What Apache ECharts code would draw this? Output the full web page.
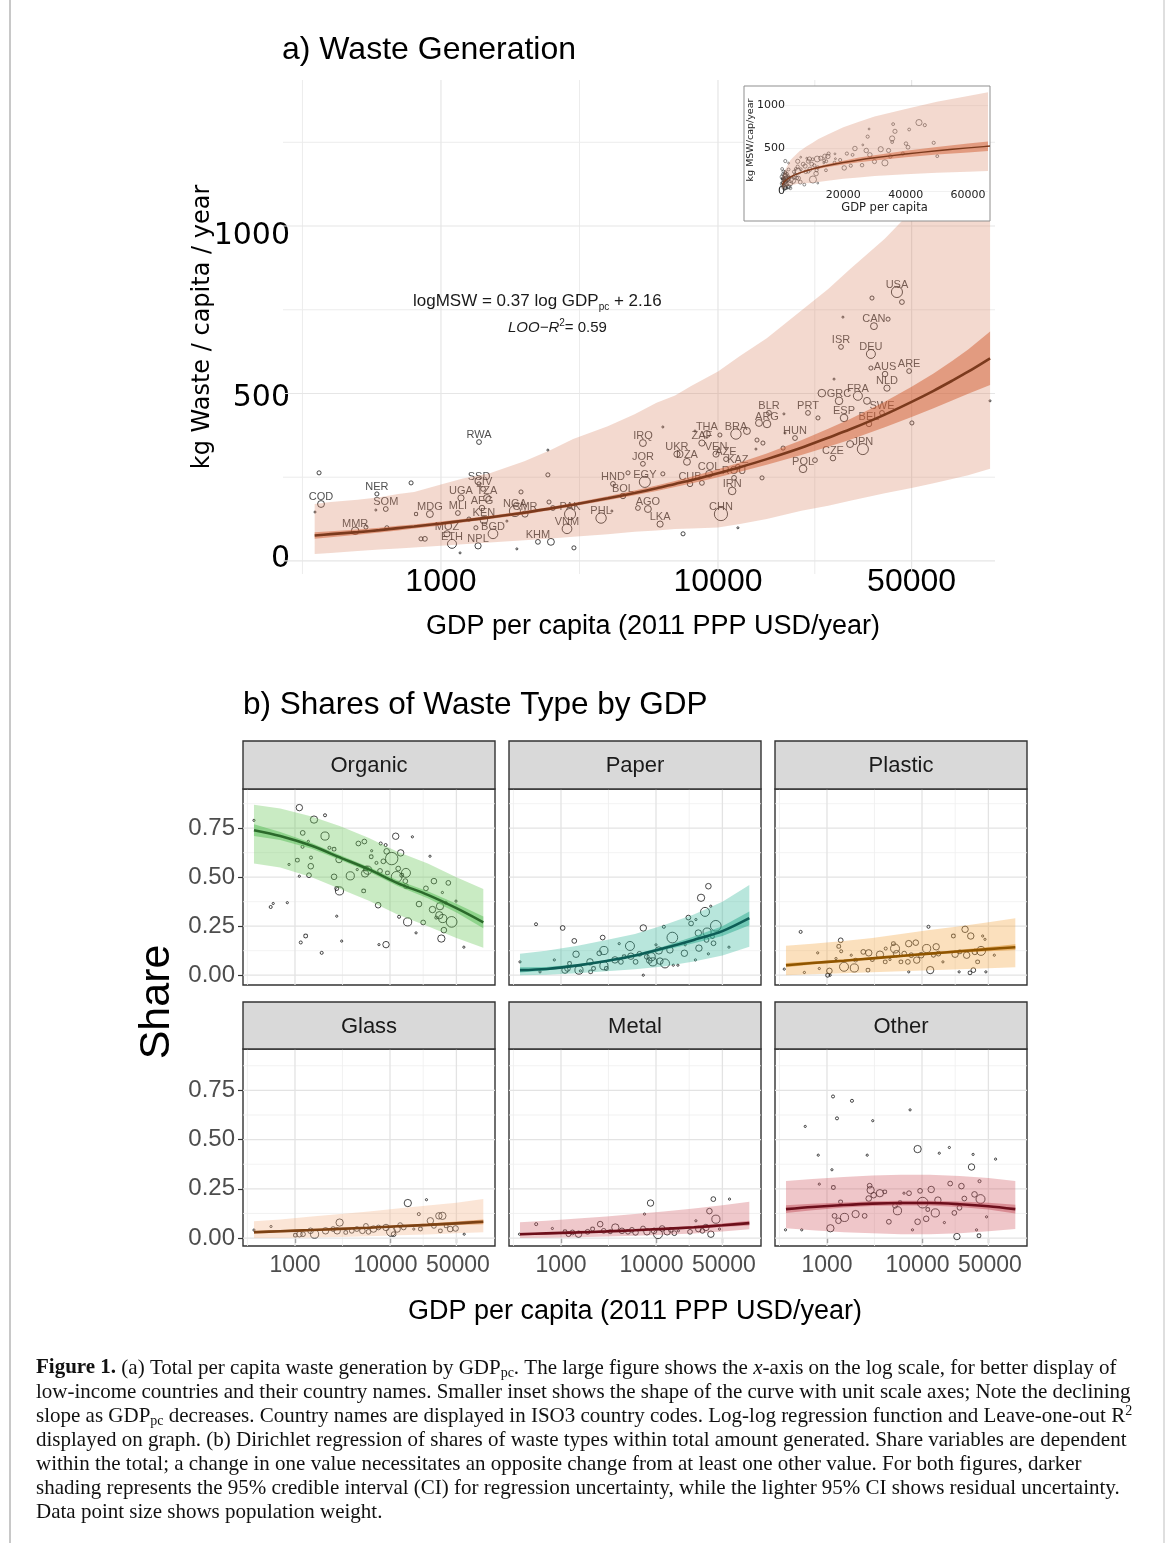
<!DOCTYPE html>
<html>
<head>
<meta charset="utf-8">
<title>Waste Generation and Shares of Waste Type by GDP</title>
<script src="https://cdn.jsdelivr.net/npm/echarts@6.0.0/dist/echarts.min.js"></script>
<style>
html,body{margin:0;padding:0;background:#ffffff;}
#chart{width:1171px;height:1543px;}
</style>
</head>
<body>
<div id="chart"></div>
<script>
// ================= Panel a: per capita waste vs GDP =================
const countryCodes = [
  'COD','','','NER','SOM','','MMR','','','',
  'MDG','','','','MOZ','ETH','MLI','UGA','SSD','CIV',
  'TZA','AFG','KEN','','BGD','','NPL','','RWA','NGA',
  '','CMR','','KHM','','','','','PAK','VNM',
  '','','','PHL','','HND','','BOL','IRQ','JOR',
  'EGY','','AGO','','LKA','','','UKR','DZA','COL',
  'CUB','','USA','','','','CAN','','ISR','DEU',
  'AUS','','ARE','NLD','GRC','','FRA','','','PRT',
  '','ESP','SWE','BEL','','','JPN','','CZE','POL',
  '','HUN','','BLR','','ARG','','','','',
  '','BRA','','','THA','','ZAF','VEN','AZE','KAZ',
  'ROU','IRN','','CHN',''
];
const gdpPerCapita = [
  369,351,363,587,632,582,490,536,638,780,
  912,813,847,875,1051,1096,1151,1181,1372,1419,
  1466,1406,1429,1262,1541,1337,1361,1172,1372,1849,
  1945,2010,1730,2239,2494,1879,2455,2535,2924,2851,
  3020,2432,2432,3784,4140,4178,4732,4540,5358,5358,
  5445,6324,5585,5140,6180,7480,6324,7110,7727,9290,
  7925,8750,44260,35970,46130,28250,36560,41110,27800,35650,
  40090,35650,48980,40740,27350,23710,31990,34510,26240,21130,
  22960,28510,39090,35080,50120,95940,33340,29980,26000,20280,
  22390,18970,17460,15280,17300,15030,14060,13830,14530,13710,
  17180,11610,12720,10160,9120,8260,8750,9840,10690,11800,
  11430,11250,14420,10250,11800
];
const mswPerCapita = [
  170,146,263,200,155,152,90,101,99,233,
  140,140,66,66,81,51,143,188,230,215,
  188,158,122,125,81,99,45,24,355,149,
  206,140,119,57,57,36,176,158,140,96,
  39,257,331,128,149,230,263,194,352,290,
  236,260,155,158,110,81,400,319,296,260,
  230,233,803,785,773,728,701,722,639,618,
  558,576,567,516,478,501,493,478,543,442,
  427,427,442,409,412,478,334,349,307,275,
  301,367,382,442,439,409,412,361,352,334,
  337,379,388,376,379,388,352,319,304,281,
  248,209,248,140,99
];
const popWeight = [
  9,2,5,5,6,2,10,5,5,5,
  9,4,5,6,8,12,6,8,5,6,
  9,7,10,5,13,5,8,2,6,15,
  5,8,2,6,9,2,5,6,15,13,
  5,5,2,14,2,6,5,7,9,6,
  15,5,9,6,8,5,2,8,9,9,
  7,6,15,5,6,2,9,5,6,12,
  7,5,6,8,10,10,12,9,2,6,
  5,10,6,7,5,2,15,9,7,10,
  6,6,2,6,2,10,9,5,5,2,
  5,14,9,5,9,2,8,8,6,6,
  6,10,5,18,2
];
// fitted curve and intervals
const gdpBand = [350,400,500,600,700,800,1000,1200,1500,2000,2500,3000,4000,5000,6000,7000,8000,10000,12000,15000,20000,25000,30000,40000,50000,60000,70000,80000,96000];
const mswFit  = [76,80,86,92,98,103,112,120,130,144,157,168,187,203,217,230,241,262,280,304,338,368,393,437,475,508,538,565,605];
const mswCiHi = [86,89,94,99,105,109,118,125,135,149,162,173,193,210,225,239,251,274,294,321,360,395,424,475,520,560,597,631,685];
const mswCiLo = [66,71,78,85,91,97,106,115,125,139,152,163,181,196,209,221,231,250,266,287,316,341,362,399,430,456,479,499,525];
const mswPiHi = [170,176,183,190,200,206,228,246,262,298,332,364,402,438,472,494,522,566,612,665,748,812,872,962,1045,1112,1180,1250,1390];
const mswPiLo = [21,24,30,34,37,40,45,50,55,62,67,72,80,87,91,95,97,100,110,125,150,165,180,202,218,232,245,256,275];

const aXTicks = [1000, 10000, 50000];
const aXMinor = [316.2, 3162.3, 22360.7];
const aYTicks = [0, 500, 1000];
const aYMinor = [250, 750, 1250];
const insetXTicks = [20000, 40000, 60000];
const insetYTicks = [0, 500, 1000];

// ================= Panel b: shares by waste type =================
const facetNames = ['Organic','Paper','Plastic','Glass','Metal','Other'];
const facetGdp = [370,700,1500,3000,6000,12000,25000,50000,96000];
const bXTicks = [1000, 10000, 50000];
const bYTicks = [0, 0.25, 0.5, 0.75];
const bYMinor = [0.125, 0.375, 0.625, 0.875];

const organicFit  = [0.74,0.71,0.66,0.60,0.54,0.47,0.41,0.342,0.27];
const organicCiHi = [0.77,0.73,0.675,0.612,0.552,0.485,0.428,0.365,0.30];
const organicCiLo = [0.71,0.69,0.645,0.588,0.528,0.455,0.392,0.32,0.24];
const organicPiHi = [0.87,0.85,0.81,0.76,0.70,0.63,0.57,0.50,0.44];
const organicPiLo = [0.57,0.55,0.50,0.44,0.38,0.31,0.25,0.19,0.14];
const organicPoints = [[1111,0.855,7],[1585,0.794,8],[2070,0.816,3],[1205,0.726,5],[2070,0.71,9],[1381,0.683,2],[1200,0.655,3],[2303,0.65,3],[2578,0.643,4],[1473,0.6,3],[1059,0.587,4],[2906,0.59,7],[865,0.565,2],[1466,0.556,6],[1111,0.505,2],[1404,0.51,5],[2578,0.502,6],[3819,0.507,9],[4645,0.672,5],[5370,0.682,5],[6410,0.635,2],[6340,0.604,4],[7980,0.672,3],[9000,0.664,3],[9226,0.632,6],[11480,0.709,7],[12950,0.624,7],[10420,0.595,14],[8510,0.581,5],[7200,0.573,3],[5600,0.544,5],[5820,0.536,9],[5458,0.519,8],[4520,0.539,2],[7852,0.532,5],[9400,0.522,4],[12200,0.544,5],[14720,0.522,10],[11750,0.502,12],[13300,0.51,4],[14500,0.48,5],[14720,0.454,5],[17200,0.706,2],[26360,0.607,2],[29000,0.48,6],[41100,0.471,5],[23900,0.443,5],[35600,0.422,2],[49500,0.378,2],[20200,0.363,6],[28000,0.335,7],[33580,0.352,8],[38700,0.369,3],[33000,0.306,8],[35900,0.289,9],[44550,0.272,12],[30700,0.294,3],[36900,0.23,6],[34700,0.187,8],[18800,0.216,2],[15330,0.272,9],[22350,0.269,5],[12460,0.298,3],[7500,0.357,6],[5280,0.43,4],[2940,0.43,9],[2750,0.442,4],[2750,0.301,2],[9080,0.156,7],[7650,0.156,2],[3100,0.174,2],[1910,0.114,3],[1295,0.2,4],[1150,0.167,3],[555,0.348,3],[590,0.366,2],[830,0.37,2],[370,0.79,2],[59900,0.143,2]];

const paperFit  = [0.026,0.032,0.05,0.072,0.10,0.137,0.18,0.225,0.291];
const paperCiHi = [0.04,0.042,0.056,0.077,0.107,0.147,0.197,0.25,0.325];
const paperCiLo = [0.014,0.024,0.044,0.067,0.093,0.127,0.163,0.2,0.255];
const paperPiHi = [0.11,0.125,0.15,0.18,0.21,0.255,0.31,0.375,0.46];
const paperPiLo = [0.0,0.002,0.01,0.02,0.03,0.045,0.07,0.1,0.145];
const paperPoints = [[370,0.068,2],[546,0.26,3],[601,0.017,2],[851,0.078,2],[1041,0.241,5],[1102,0.026,7],[1170,0.034,6],[1230,0.06,4],[1380,0.175,5],[1440,0.107,7],[1546,0.026,9],[1600,0.022,2],[2018,0.068,7],[2050,0.017,4],[2200,0.034,4],[2530,0.112,5],[2745,0.192,5],[2830,0.126,9],[2830,0.048,9],[3000,0.034,4],[3700,0.078,7],[4100,0.161,2],[4270,0.068,5],[4620,0.094,4],[5320,0.149,10],[5440,0.097,7],[6100,0.068,5],[7350,0.241,7],[7350,0.0,2],[6700,0.109,5],[8000,0.094,5],[8500,0.075,6],[8900,0.094,9],[9250,0.068,9],[10000,0.155,2],[10700,0.126,8],[11000,0.072,7],[12100,0.247,3],[12440,0.06,10],[14000,0.129,7],[14860,0.192,12],[15200,0.051,2],[17000,0.051,2],[19900,0.112,7],[20300,0.155,2],[21900,0.294,5],[23400,0.264,5],[26300,0.284,2],[26000,0.078,2],[27900,0.215,7],[28300,0.138,7],[29800,0.395,8],[32800,0.323,10],[34500,0.22,9],[34000,0.18,5],[35600,0.454,6],[37700,0.352,2],[40300,0.163,5],[42600,0.252,12],[39300,0.197,4],[35600,0.109,2],[58600,0.143,2]];

const plasticFit  = [0.051,0.062,0.074,0.086,0.098,0.11,0.122,0.133,0.143];
const plasticCiHi = [0.062,0.07,0.08,0.091,0.103,0.116,0.13,0.144,0.158];
const plasticCiLo = [0.04,0.054,0.068,0.081,0.093,0.104,0.114,0.122,0.128];
const plasticPiHi = [0.15,0.16,0.175,0.19,0.21,0.23,0.25,0.27,0.29];
const plasticPiLo = [0.0,0.005,0.01,0.015,0.02,0.025,0.03,0.036,0.041];
const plasticPoints = [[355,0.031,2],[528,0.221,3],[578,0.014,2],[798,0.114,2],[830,0.034,2],[1016,0.0,4],[1060,0.022,6],[1080,0.0,2],[1244,0.085,2],[1394,0.178,5],[1330,0.147,4],[1410,0.122,3],[1511,0.043,10],[1800,0.102,2],[1940,0.037,9],[2000,0.077,4],[2410,0.119,5],[2750,0.114,7],[2700,0.026,4],[3000,0.08,4],[3610,0.105,8],[4100,0.068,4],[4150,0.136,3],[4600,0.08,2],[5200,0.136,10],[5000,0.161,4],[5400,0.11,7],[6000,0.068,4],[6500,0.11,5],[7100,0.068,5],[7250,0.161,7],[7250,0.017,2],[8600,0.166,6],[7700,0.102,5],[8800,0.077,7],[9800,0.102,6],[11190,0.136,9],[11700,0.247,3],[12200,0.026,8],[13200,0.102,4],[14100,0.145,7],[14900,0.11,5],[16600,0.068,2],[21400,0.2,4],[22300,0.107,7],[25000,0.119,4],[24600,0.017,2],[28400,0.234,7],[29500,0.102,7],[32000,0.012,4],[32600,0.2,7],[34700,0.026,5],[36000,0.119,6],[38500,0.068,4],[41800,0.124,10],[43500,0.2,2],[46000,0.183,2],[47000,0.017,2],[57700,0.102,2]];

const glassFit  = [0.03,0.035,0.041,0.047,0.053,0.06,0.067,0.075,0.083];
const glassCiHi = [0.038,0.041,0.046,0.051,0.057,0.065,0.074,0.084,0.095];
const glassCiLo = [0.022,0.029,0.036,0.043,0.049,0.055,0.06,0.066,0.071];
const glassPiHi = [0.086,0.095,0.11,0.122,0.135,0.15,0.165,0.18,0.198];
const glassPiLo = [0.0,0.0,0.003,0.006,0.01,0.014,0.019,0.025,0.03];
const glassPoints = [[370,0.041,2],[559,0.059,2],[1010,0.015,4],[1113,0.02,6],[1214,0.02,5],[1457,0.037,6],[1607,0.02,9],[2098,0.037,7],[2520,0.046,5],[2780,0.037,7],[2950,0.079,8],[3420,0.029,4],[3960,0.037,5],[4480,0.046,5],[5120,0.037,6],[5580,0.062,5],[5940,0.032,5],[6700,0.046,7],[7560,0.054,5],[9080,0.054,7],[10260,0.032,10],[10930,0.02,5],[11890,0.046,7],[12790,0.066,5],[13930,0.054,5],[15400,0.178,8],[17800,0.046,2],[20100,0.122,3],[20900,0.046,4],[24200,0.195,2],[26600,0.088,7],[29000,0.062,5],[32700,0.113,7],[35600,0.113,8],[33900,0.037,4],[39000,0.062,4],[43000,0.046,6],[49000,0.049,6],[60400,0.02,2]];

const metalFit  = [0.02,0.024,0.029,0.034,0.04,0.047,0.055,0.065,0.076];
const metalCiHi = [0.027,0.029,0.033,0.038,0.044,0.052,0.062,0.074,0.088];
const metalCiLo = [0.013,0.019,0.025,0.03,0.036,0.042,0.048,0.056,0.064];
const metalPiHi = [0.08,0.088,0.1,0.11,0.122,0.135,0.15,0.167,0.184];
const metalPiLo = [0.0,0.002,0.005,0.008,0.012,0.017,0.024,0.033,0.045];
const metalPoints = [[366,0.02,2],[548,0.071,3],[811,0.049,2],[1102,0.032,4],[1199,0.02,5],[1320,0.029,5],[1530,0.02,7],[1905,0.032,5],[2150,0.046,4],[2585,0.071,6],[2815,0.037,5],[3300,0.032,4],[3730,0.054,8],[4380,0.037,6],[5070,0.032,5],[5580,0.042,5],[6090,0.029,6],[7300,0.049,5],[7570,0.122,2],[8030,0.032,7],[8760,0.178,7],[9540,0.037,6],[10500,0.02,10],[11600,0.049,6],[13100,0.032,7],[14300,0.042,5],[15600,0.025,5],[17200,0.037,2],[22800,0.032,5],[26300,0.088,2],[27900,0.046,6],[30800,0.037,5],[33500,0.054,7],[36500,0.137,6],[37800,0.02,7],[40100,0.198,5],[42700,0.096,9],[46600,0.046,2],[59400,0.198,2]];

const otherFit  = [0.147,0.158,0.168,0.175,0.178,0.178,0.172,0.162,0.147];
const otherCiHi = [0.167,0.174,0.181,0.187,0.19,0.19,0.186,0.179,0.169];
const otherCiLo = [0.127,0.142,0.155,0.163,0.166,0.166,0.158,0.145,0.125];
const otherPiHi = [0.29,0.30,0.31,0.318,0.322,0.322,0.315,0.305,0.29];
const otherPiLo = [0.05,0.04,0.03,0.025,0.02,0.02,0.025,0.035,0.046];
const otherPoints = [[366,0.042,2],[542,0.042,2],[590,0.567,2],[809,0.421,2],[830,0.274,2],[1086,0.05,8],[1127,0.347,2],[1157,0.719,3],[1167,0.257,4],[1200,0.113,5],[1274,0.608,3],[1320,0.088,6],[1390,0.184,4],[1528,0.105,9],[1832,0.697,3],[2000,0.122,8],[2490,0.113,5],[2650,0.421,2],[2750,0.201,6],[2810,0.266,5],[2880,0.244,8],[3030,0.596,2],[3100,0.218,6],[3600,0.228,8],[4060,0.235,4],[4480,0.083,5],[5200,0.164,5],[5520,0.139,9],[5870,0.18,4],[6460,0.228,2],[7490,0.651,2],[7300,0.228,5],[7940,0.042,2],[8990,0.452,8],[8990,0.083,6],[9550,0.24,5],[10160,0.18,12],[11070,0.098,6],[11500,0.145,4],[12500,0.247,7],[13800,0.128,9],[14700,0.193,7],[15200,0.431,2],[17200,0.079,2],[19400,0.46,2],[19800,0.277,5],[21900,0.128,5],[23300,0.008,7],[24800,0.154,5],[26000,0.264,6],[27900,0.201,5],[33200,0.361,7],[34500,0.425,2],[35700,0.222,6],[37500,0.042,2],[40300,0.289,3],[41300,0.198,10],[47800,0.108,2],[59500,0.401,2],[39800,0.012,4]];

// ================= styles & layout =================
const SANS = "'Liberation Sans', Arial, sans-serif";
const DEJAVU = "'DejaVu Sans', sans-serif";
const SERIF = "'Liberation Serif', 'Times New Roman', serif";

const facetSeriesData = [
  {fit: organicFit, ciHi: organicCiHi, ciLo: organicCiLo, piHi: organicPiHi, piLo: organicPiLo, pts: organicPoints},
  {fit: paperFit, ciHi: paperCiHi, ciLo: paperCiLo, piHi: paperPiHi, piLo: paperPiLo, pts: paperPoints},
  {fit: plasticFit, ciHi: plasticCiHi, ciLo: plasticCiLo, piHi: plasticPiHi, piLo: plasticPiLo, pts: plasticPoints},
  {fit: glassFit, ciHi: glassCiHi, ciLo: glassCiLo, piHi: glassPiHi, piLo: glassPiLo, pts: glassPoints},
  {fit: metalFit, ciHi: metalCiHi, ciLo: metalCiLo, piHi: metalPiHi, piLo: metalPiLo, pts: metalPoints},
  {fit: otherFit, ciHi: otherCiHi, ciLo: otherCiLo, piHi: otherPiHi, piLo: otherPiLo, pts: otherPoints}
];
const facetColors = [
  {light:'rgba(100,198,84,0.35)', dark:'rgba(85,189,85,0.5)', line:'#2b6a2b'},
  {light:'rgba(52,184,155,0.35)', dark:'rgba(44,172,144,0.5)', line:'#0d5d56'},
  {light:'rgba(244,166,66,0.35)', dark:'rgba(215,136,27,0.5)', line:'#8f5500'},
  {light:'rgba(244,181,138,0.35)', dark:'rgba(213,109,26,0.5)', line:'#7c4214'},
  {light:'rgba(209,98,106,0.35)', dark:'rgba(201,86,99,0.5)', line:'#6d0f1a'},
  {light:'rgba(209,92,101,0.35)', dark:'rgba(195,84,95,0.5)', line:'#6d0f1c'}
];
const colX = [243, 509, 775];
const panelW = 252;
const rowTop = [789, 1049];
const rowH = [196, 197];
const rowYRange = [[-0.05, 0.95], [-0.04, 0.96]];
const stripTop = [741, 1002];
const stripH = [48, 47];

// ================= helpers =================
function gridLines(gi, xMaj, xMin, yMaj, yMin, ref, st, z) {
  return {
    type: 'custom', xAxisIndex: gi, yAxisIndex: gi, silent: true, z: z,
    data: [ref],
    renderItem: function (params, api) {
      const cs = params.coordSys, ch = [];
      const vline = (v, w, c) => { const x = api.coord([v, ref[1]])[0]; ch.push({type:'line', shape:{x1:x, y1:cs.y, x2:x, y2:cs.y + cs.height}, style:{stroke:c, lineWidth:w}}); };
      const hline = (v, w, c) => { const y = api.coord([ref[0], v])[1]; ch.push({type:'line', shape:{x1:cs.x, y1:y, x2:cs.x + cs.width, y2:y}, style:{stroke:c, lineWidth:w}}); };
      xMin.forEach(v => vline(v, st.minW, st.minC));
      yMin.forEach(v => hline(v, st.minW, st.minC));
      xMaj.forEach(v => vline(v, st.majW, st.majC));
      yMaj.forEach(v => hline(v, st.majW, st.majC));
      return {type:'group', children: ch};
    }
  };
}
function band(gi, xs, lo, hi, color, z, clip) {
  return {
    type: 'custom', xAxisIndex: gi, yAxisIndex: gi, silent: true, z: z,
    data: [[xs[0], lo[0]]],
    renderItem: function (params, api) {
      const pts = [];
      for (let i = 0; i < xs.length; i++) pts.push(api.coord([xs[i], hi[i]]));
      for (let i = xs.length - 1; i >= 0; i--) pts.push(api.coord([xs[i], lo[i]]));
      const poly = {type:'polygon', shape:{points: pts}, style:{fill: color}};
      if (!clip) return poly;
      const cs = params.coordSys;
      return {type:'group', children:[poly], clipPath:{type:'rect', shape:{x:cs.x, y:cs.y, width:cs.width, height:cs.height}}};
    }
  };
}
function fitLine(gi, xs, ys, color, w, z) {
  return {
    type: 'line', xAxisIndex: gi, yAxisIndex: gi, silent: true, z: z,
    data: xs.map((x, i) => [x, ys[i]]),
    smooth: 0.3, showSymbol: false, symbol: 'none', clip: true,
    lineStyle: {color: color, width: w}
  };
}
const hollow = {color: 'rgba(0,0,0,0)', borderColor: '#1a1a1a', borderWidth: 1};
const facetTickFont = {fontSize:23, fontFamily:SANS, color:'#4d4d4d'};

// ================= build option =================
const grids = [
  {left: 283, top: 80, width: 712, height: 494},
  {left: 781, top: 88, width: 207, height: 104}
];
const xAxes = [
  {type:'log', gridIndex:0, logBase:10, min:269, max:100000,
   axisLine:{show:false}, axisTick:{show:false}, splitLine:{show:false},
   axisLabel:{customValues: aXTicks, formatter: v => String(Math.round(v)), fontSize:32, fontFamily:SANS, color:'#000', margin:8, verticalAlign:'middle', hideOverlap:false},
   name:'GDP per capita (2011 PPP USD/year)', nameLocation:'middle', nameGap:39, nameMoveOverlap:false,
   nameTextStyle:{fontSize:27, fontFamily:SANS, color:'#000', padding:[0,0,0,28]}},
  {type:'value', gridIndex:1, min:0, max:66400, z:12,
   axisLine:{show:false}, axisTick:{show:false}, splitLine:{show:false},
   axisLabel:{customValues: insetXTicks, formatter: v => String(Math.round(v)), fontSize:11, fontFamily:DEJAVU, color:'#222', margin:-2, hideOverlap:false},
   name:'GDP per capita', nameLocation:'middle', nameGap:10, nameMoveOverlap:false,
   nameTextStyle:{fontSize:11.5, fontFamily:DEJAVU, color:'#222'}}
];
const yAxes = [
  {type:'value', gridIndex:0, min:-39, max:1436,
   axisLine:{show:false}, axisTick:{show:false}, splitLine:{show:false},
   axisLabel:{customValues: aYTicks, margin:-7, hideOverlap:false,
     formatter: v => { const r = Math.round(v); const k = r === 0 ? 'z' : (r === 500 ? 'm' : 't'); return '{' + k + '|' + r + '}'; },
     rich:{
       z:{fontSize:30, fontFamily:DEJAVU, color:'#000', padding:[0,0,3,0]},
       m:{fontSize:30, fontFamily:DEJAVU, color:'#000', padding:[9,0,0,0]},
       t:{fontSize:30, fontFamily:DEJAVU, color:'#000', padding:[20,0,0,0]}
     }},
   name:'kg Waste / capita / year', nameLocation:'middle', nameGap:68, nameMoveOverlap:false,
   nameTextStyle:{fontSize:24, fontFamily:DEJAVU, color:'#000'}},
  {type:'value', gridIndex:1, min:-5, max:1205, z:12,
   axisLine:{show:false}, axisTick:{show:false}, splitLine:{show:false},
   axisLabel:{customValues: insetYTicks, formatter: v => String(Math.round(v)), fontSize:11, fontFamily:DEJAVU, color:'#222', margin:-4, hideOverlap:false},
   name:'kg MSW/cap/year', nameLocation:'middle', nameGap:25, nameMoveOverlap:false,
   nameTextStyle:{fontSize:9.5, fontFamily:DEJAVU, color:'#222'}}
];
const series = [
  gridLines(0, aXTicks, aXMinor, aYTicks, aYMinor, [1000, 500], {majC:'#e6e6e6', majW:1.2, minC:'#ececec', minW:1}, 1),
  {type:'scatter', xAxisIndex:0, yAxisIndex:0, z:2, silent:true,
   data: gdpPerCapita.map((g, i) => [g, mswPerCapita[i], popWeight[i], countryCodes[i]]),
   symbolSize: d => d[2] * 0.7 + 0.6, itemStyle: hollow,
   label:{show:true, position:'inside', offset:[0,-7], formatter: p => p.data[3], fontSize:11, fontFamily:SANS, color:'#222'}},
  band(0, gdpBand, mswPiLo, mswPiHi, 'rgba(215,128,95,0.3)', 3, false),
  band(0, gdpBand, mswCiLo, mswCiHi, 'rgba(209,93,49,0.5)', 4, false),
  fitLine(0, gdpBand, mswFit, '#7b3a1d', 2.6, 5),
  // inset
  gridLines(1, [], [], insetYTicks, [], [30000, 500], {majC:'#f1f1f1', majW:1, minC:'#f1f1f1', minW:1}, 11),
  {type:'scatter', xAxisIndex:1, yAxisIndex:1, z:12, silent:true,
   data: gdpPerCapita.map((g, i) => [g, mswPerCapita[i], popWeight[i]]),
   symbolSize: d => d[2] * 0.33 + 1.2, itemStyle:{color:'rgba(0,0,0,0)', borderColor:'#333', borderWidth:0.7}},
  band(1, gdpBand, mswPiLo, mswPiHi, 'rgba(215,128,95,0.3)', 13, true),
  band(1, gdpBand, mswCiLo, mswCiHi, 'rgba(209,93,49,0.5)', 14, true),
  fitLine(1, gdpBand, mswFit, '#7b3a1d', 1.4, 15)
];

facetNames.forEach((name, k) => {
  const r = Math.floor(k / 3), c = k % 3, gi = 2 + k;
  const d = facetSeriesData[k], col = facetColors[k];
  grids.push({left: colX[c], top: rowTop[r], width: panelW, height: rowH[r], show: true,
              borderColor: '#333', borderWidth: 1.4, backgroundColor: 'rgba(0,0,0,0)'});
  xAxes.push({type:'log', gridIndex:gi, logBase:10, min:283.6, max:127400,
    axisLine:{show:false}, splitLine:{show:false},
    axisTick:{show: r === 1, customValues: bXTicks, length:5, lineStyle:{color:'#333', width:1.2}},
    axisLabel:{show: r === 1, customValues: bXTicks, margin:8, hideOverlap:false,
      formatter: v => { const rv = Math.round(v); const key = rv === 10000 ? 'l' : (rv === 50000 ? 'r' : 'm'); return '{' + key + '|' + rv + '}'; },
      rich:{
        m: Object.assign({}, facetTickFont),
        l: Object.assign({padding:[0,9,0,0]}, facetTickFont),
        r: Object.assign({padding:[0,0,0,3]}, facetTickFont)
      }}});
  yAxes.push({type:'value', gridIndex:gi, min: rowYRange[r][0], max: rowYRange[r][1],
    axisLine:{show:false}, splitLine:{show:false},
    axisTick:{show: c === 0, customValues: bYTicks, length:5, lineStyle:{color:'#333', width:1.2}},
    axisLabel:{show: c === 0, customValues: bYTicks, formatter: v => Number(v).toFixed(2), fontSize:24, fontFamily:SANS, color:'#4d4d4d', margin:8, hideOverlap:false}});
  series.push(gridLines(gi, bXTicks, aXMinor, bYTicks, bYMinor, [1000, 0.5], {majC:'#e3e3e3', majW:1.3, minC:'#efefef', minW:0.8}, 1));
  series.push({type:'scatter', xAxisIndex:gi, yAxisIndex:gi, z:2, silent:true,
    data: d.pts.map(p => [p[0], p[1], p[2]]), symbolSize: v => v[2] * 0.85 + 0.5, itemStyle: hollow});
  series.push(band(gi, facetGdp, d.piLo, d.piHi, col.light, 3, false));
  series.push(band(gi, facetGdp, d.ciLo, d.ciHi, col.dark, 4, false));
  series.push(fitLine(gi, facetGdp, d.fit, col.line, 2.6, 5));
});

// ================= graphic texts & decorations =================
const graphics = [
  {type:'line', shape:{x1:10, y1:0, x2:10, y2:1543}, style:{stroke:'#c8c8c8', lineWidth:2}, z:0},
  {type:'line', shape:{x1:1164, y1:0, x2:1164, y2:1543}, style:{stroke:'#d4d4d4', lineWidth:1.5}, z:0},
  // inset frame
  {type:'rect', shape:{x:744, y:86, width:246, height:135}, style:{fill:'#ffffff', stroke:'#8f8f8f', lineWidth:1}, z:10},
  // regression annotation
  {type:'text', x:413, y:301, z:20, style:{text:'logMSW = 0.37 log GDP{sub|pc} + 2.16', fontSize:17, fontFamily:SANS, fill:'#1a1a1a', verticalAlign:'middle', lineHeight:22,
    rich:{sub:{fontSize:10, fontFamily:SANS, fill:'#1a1a1a', verticalAlign:'bottom', lineHeight:13}}}},
  {type:'text', x:508, y:328, z:20, style:{text:'{i|LOO\u2212R}{sup|2}{n|= 0.59}', fontSize:15, fontFamily:SANS, fill:'#1a1a1a', verticalAlign:'middle', lineHeight:20,
    rich:{i:{fontSize:15, fontStyle:'italic', fontFamily:SANS, fill:'#1a1a1a'},
          sup:{fontSize:10, fontFamily:SANS, fill:'#1a1a1a', verticalAlign:'top', lineHeight:12},
          n:{fontSize:15, fontFamily:SANS, fill:'#1a1a1a'}}}},
  // panel b shared axis titles
  {type:'text', x:157, y:1002, rotation:Math.PI / 2, z:20, style:{text:'Share', fontSize:43, fontFamily:SANS, fill:'#000', align:'center', verticalAlign:'middle'}},
  {type:'text', x:635, y:1312, z:20, style:{text:'GDP per capita (2011 PPP USD/year)', fontSize:27, fontFamily:SANS, fill:'#000', align:'center', verticalAlign:'middle'}}
];
facetNames.forEach((name, k) => {
  const r = Math.floor(k / 3), c = k % 3;
  graphics.push({type:'rect', shape:{x: colX[c], y: stripTop[r], width: panelW, height: stripH[r]}, style:{fill:'#d9d9d9', stroke:'#333', lineWidth:1.4}, z:20});
  graphics.push({type:'text', x: colX[c] + panelW / 2, y: stripTop[r] + stripH[r] / 2 + 1, z:21,
    style:{text: name, fontSize:22, fontFamily:SANS, fill:'#1a1a1a', align:'center', verticalAlign:'middle'}});
});
const captionLines = [
  '{b|Figure 1.} (a) Total per capita waste generation by GDP{sub|pc}. The large figure shows the {i|x}-axis on the log scale, for better display of',
  'low-income countries and their country names. Smaller inset shows the shape of the curve with unit scale axes; Note the declining',
  'slope as GDP{sub|pc} decreases. Country names are displayed in ISO3 country codes. Log-log regression function and Leave-one-out R{sup|2}',
  'displayed on graph. (b) Dirichlet regression of shares of waste types within total amount generated. Share variables are dependent',
  'within the total; a change in one value necessitates an opposite change from at least one other value. For both figures, darker',
  'shading represents the 95% credible interval (CI) for regression uncertainty, while the lighter 95% CI shows residual uncertainty.',
  'Data point size shows population weight.'
];
const capFont = 21;
captionLines.forEach((t, i) => {
  graphics.push({type:'text', x:36, y:1368 + i * 24, z:20,
    style:{text:t, fontSize:capFont, fontFamily:SERIF, fill:'#111', verticalAlign:'middle', lineHeight:24,
      rich:{
        b:{fontSize:capFont, fontWeight:'bold', fontFamily:SERIF, fill:'#111'},
        i:{fontSize:capFont, fontStyle:'italic', fontFamily:SERIF, fill:'#111'},
        sub:{fontSize:14, fontFamily:SERIF, fill:'#111', verticalAlign:'bottom', lineHeight:14},
        sup:{fontSize:14, fontFamily:SERIF, fill:'#111', verticalAlign:'top', lineHeight:14}
      }}});
});

const option = {
  animation: false,
  backgroundColor: '#ffffff',
  title: [
    {text:'a) Waste Generation', left:282, top:34, padding:0, textStyle:{fontSize:32, fontFamily:SANS, fontWeight:'normal', color:'#000'}},
    {text:'b) Shares of Waste Type by GDP', left:243, top:689, padding:0, textStyle:{fontSize:31.5, fontFamily:SANS, fontWeight:'normal', color:'#000'}}
  ],
  grid: grids,
  xAxis: xAxes,
  yAxis: yAxes,
  series: series,
  graphic: {elements: graphics}
};

const chart = echarts.init(document.getElementById('chart'), null, {renderer:'canvas', width:1171, height:1543});
chart.setOption(option);
</script>
</body>
</html>
